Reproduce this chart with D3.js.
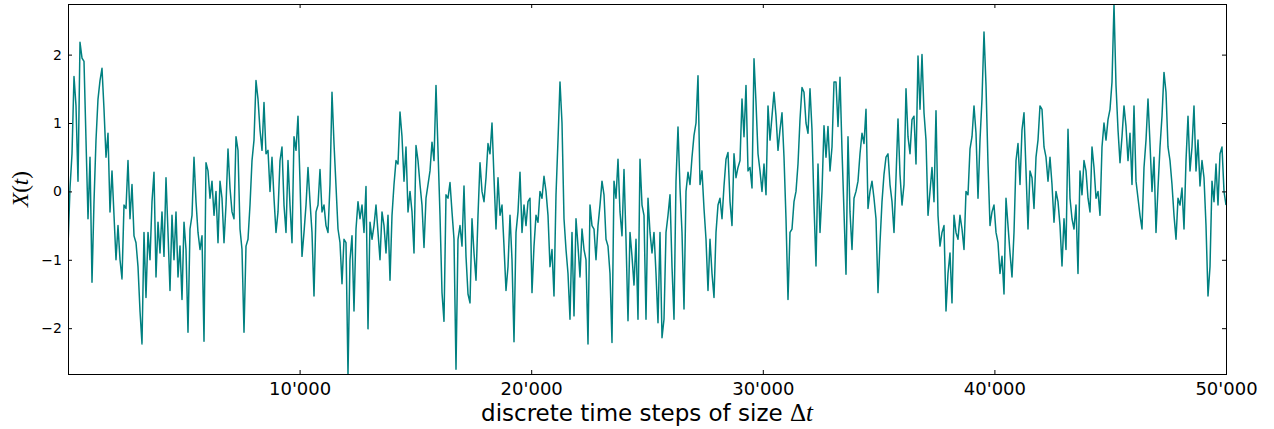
<!DOCTYPE html>
<html>
<head>
<meta charset="utf-8">
<script src="https://cdn.jsdelivr.net/npm/d3@7"></script>
<style>
  body { margin: 0; background: #fff; }
  svg { display: block; }
</style>
</head>
<body>
<div id="plot"></div>
<script>
var width = 1274, height = 429;
// plot frame in pixels ("top" alone would clash with window.top)
var plot_left = 68, plot_right = 1226, plot_top = 4, plot_bottom = 374;

var n_steps = 50000;

// X(t) (one value roughly every 2 px)
var x_values = [
    -0.80, 0.05, 0.55, 1.68, 1.25, 0.15, 2.18, 1.95, 1.9, 0.75,
    -0.4, 0.5, -1.33, -0.15, 0.75, 1.35, 1.62, 1.8, 1.2, 0.5,
    0.85, -0.3, 0.3, -0.35, -1.0, -0.5, -1.0, -1.28, -0.2, -0.25,
    0.45, -0.4, 0.1, -0.65, -0.75, -1.1, -1.75, -2.23, -0.6, -1.55,
    -0.6, -1.0, -0.15, 0.28, -1.25, -0.45, -0.9, -0.3, -0.95, 0.2,
    -0.6, -1.45,
    -0.35, -1.0, -0.3, -1.25, -0.8, -1.58, -0.45, -0.85, -2.06, -0.55,
    -0.35, 0.5, -0.15, -0.6, -0.85, -0.65, -2.19, 0.42, 0.3, -0.1,
    0.15, -0.35, 0.0, -0.75, 0.15, -0.1, -0.75, -0.2, 0.62, 0.05,
    -0.3, -0.4, 0.8, 0.6, -0.55, -0.85, -2.06, -0.8, -0.7, -0.2,
    0.45, 0.75, 1.62, 1.35, 0.9, 0.6, 1.3, 0.55, 0.6, 0.0,
    0.5, -0.1, -0.6,
    -0.3, 0.45, 0.65, -0.2, -0.6, 0.45, -0.2, -0.75, 0.8, 0.6,
    1.1, 0.15, -0.95, -0.6, -0.2, 0.35, -0.15, -0.6, -1.53, -0.3,
    -0.2, 0.32, -0.3, -0.2, -0.5, -0.6, 0.1, 1.45, 0.7, 0.08,
    -0.55, -0.75, -1.35, -0.7, -0.75, -2.67, -1.0, -0.65, -1.75, -0.55,
    -0.15, -0.4, -0.2, -0.6, 0.07, -2.01, -0.45, -0.7, -0.5, -0.2,
    -0.6, -1.0, -0.3,
    -0.5, -0.9, -0.35, -1.3, -0.35, 0.1, 0.45, 0.4, 1.16, 0.8,
    0.15, 0.65, -0.3, 0.0, -0.3, -0.9, 0.67, 0.45, 0.1, -0.2,
    -0.82, -0.1, 0.1, 0.3, 0.72, 0.45, 1.55, 0.6, -0.35, -1.48,
    -1.9, -0.05, -0.1, 0.13, -0.3, -0.7, -2.6, -0.7, -0.5, -0.8,
    0.08, -0.95, -1.5, -1.63, -0.4, -0.9, -1.3, -0.35, 0.42, 0.0,
    -0.15, 0.2, 0.7,
    0.55, 1.0, 0.2, -0.55, 0.2, -0.35, -0.2, -0.8, -1.45, -1.1,
    -0.35, -1.0, -2.2, -0.6, -0.3, 0.28, -0.6, -0.2, -0.5, -0.15,
    -0.1, -1.48, -0.8, -0.35, -0.45, 0.0, -0.1, 0.22, 0.0, -0.35,
    -1.1, -0.85, -1.53, -0.05, 0.75, 1.6, 1.0, -0.4, -0.85, -1.2,
    -1.87, -0.6, -1.82, -0.4, -0.8, -1.25, -0.55, -0.85, -1.0, -2.23,
    -0.2, -0.5, -0.55,
    -1.0, -0.5, -0.2, 0.15, -0.05, -0.7, -0.8, -1.2, -2.21, 0.15,
    -0.1, 0.47, -0.3, -0.65, 0.32, -0.7, -1.89, -0.6, -0.95, -1.37,
    -0.7, -1.87, 0.47, -0.2, -0.35, -1.87, -0.1, -0.6, -0.9, -0.6,
    -1.2, -1.92, -0.6, -2.14, -1.87, -0.6, -0.35, -0.05, -1.1, -1.87,
    0.15, 0.94, 0.05, -0.6, -1.72, 0.0, 0.28, 0.1, 0.5, 0.82,
    1.0, 1.69, 0.1,
    0.3, -0.25, -0.7, -1.45, -0.7, -1.2, -1.55, -0.6, -0.2, -0.1,
    -0.4, 0.08, 0.47, 0.57, -0.15, -0.5, 0.55, 0.2, 0.35, 0.45,
    1.35, 0.8, 1.55, 0.3, 0.35, 0.05, 1.94, 1.3, 0.55, 0.3,
    0.0, 0.4, -0.05, 1.25, 0.75, 1.1, 1.45, 1.1, 0.6, 0.9,
    1.15, 0.5, -0.4, -1.58, -0.6, -0.55, -0.15, 0.0, 0.4, 1.05,
    1.52, 1.45, 1.0,
    0.85, 1.5, 0.9, -0.2, -1.09, 0.4, -0.6, 0.0, 0.96, 0.5,
    0.95, 0.3, 0.65, 1.6, 1.6, 0.95, 1.67, 0.6, -0.3, -1.21,
    0.8, -0.3, -0.85, -0.1, 0.0, 0.15, 0.55, 0.85, 0.7, 1.2,
    -0.25, 0.0, 0.15, -0.1, -0.4, -1.48, -0.75, -0.15, 0.25, 0.5,
    0.55, 0.1, -0.15, -0.6, 0.2, 1.06, 0.25, -0.2, 0.1, 1.5,
    0.8, 0.55, 1.05,
    1.1, 0.4, 1.98, 1.2, 2.0, 1.15, 0.75, -0.35, 0.0, 0.35,
    -0.15, 1.18, -0.35, -0.8, -0.6, -0.5, -1.75, -1.2, -0.9, -1.63,
    -0.35, -0.6, -0.7, -0.35, -0.55, -0.85, 0.0, -0.05, 0.62, 0.8,
    1.25, 0.85, -0.1, 0.75, 1.35, 2.33, 1.55, 0.4, -0.5, -0.3,
    -0.2, -0.6, -0.75, -1.2, -0.95, -1.5, -0.1, -0.5, -0.9, -1.25,
    -0.6, 0.45, 0.7,
    0.1, 0.9, 1.15, 0.3, -0.55, 0.3, 0.2, -0.25, 0.5, 0.75,
    1.25, 1.2, 0.65, 0.5, 0.15, 0.5, 0.1, -0.45, 0.0, -0.15,
    -0.5, -1.09, -0.4, -0.85, 0.91, -0.1, -0.4, -0.55, -0.2, -1.2,
    0.3, -0.05, 0.45, 0.3, -0.1, -0.3, 0.65, 0.35, -0.1, 0.0,
    -0.35, 0.65, 1.0, 0.75, 1.05, 1.2, 1.6, 2.74, 1.55, 0.9,
    0.42, 0.8, 1.25,
    0.95, 0.45, 0.85, 0.1, 1.25, 0.15, -0.1, -0.35, -0.55, 0.35,
    0.75, 1.35, 0.7, 0.0, 0.5, -0.6, 0.05, 0.65, 1.1, 1.74,
    1.45, 0.65, 0.45, 0.1, -0.35, -0.7, -0.1, -0.2, 0.05, -0.55,
    0.45, 1.1, 0.3, 0.65, 1.25, 0.3, 0.75, 0.08, 0.45, 0.2,
    -0.5, -1.53, -1.1, 0.15, -0.15, 0.4, -0.2, 0.55, 0.65, 0.0,
    -0.2
];

var x_ticks = [10000, 20000, 30000, 40000, 50000];
var y_ticks = [-2, -1, 0, 1, 2];

var sample_step = n_steps / (x_values.length - 1);

var svg = d3.select("div#plot")
    .append("svg")
        .attr("width", width)
        .attr("height", height)
        .attr("viewBox", "0 0 " + width + " " + height);

var x_scale = d3.scaleLinear()
    .domain([0, n_steps])
    .range([plot_left, plot_right]);

// matplotlib keeps the limits tight to the data here
var y_scale = d3.scaleLinear()
    .domain(d3.extent(x_values))
    .range([plot_bottom, plot_top]);

svg.append("clipPath")
    .attr("id", "clip")
    .append("rect")
        .attr("x", plot_left)
        .attr("y", plot_top)
        .attr("width", plot_right - plot_left)
        .attr("height", plot_bottom - plot_top);

var line = d3.line()
    .x(function(d, i) { return x_scale(i * sample_step); })
    .y(function(d) { return y_scale(d); });

svg.append("path")
    .datum(x_values)
    .attr("clip-path", "url(#clip)")
    .attr("fill", "none")
    .attr("stroke", "#008080")
    .attr("stroke-width", 1.5)
    .attr("stroke-linejoin", "round")
    .attr("d", line);

// ticks point inward on all four sides
var fmt = d3.format(",");
var g_bottom = svg.append("g")
    .attr("transform", "translate(0," + plot_bottom + ")")
    .call(d3.axisBottom(x_scale)
        .tickValues(x_ticks)
        .tickSize(-4)
        .tickPadding(8)
        .tickFormat(function(d) { return fmt(d).replace(/,/g, "'"); }));

var g_top = svg.append("g")
    .attr("transform", "translate(0," + plot_top + ")")
    .call(d3.axisTop(x_scale).tickValues(x_ticks).tickSize(-4).tickFormat(""));

var g_left = svg.append("g")
    .attr("transform", "translate(" + plot_left + ",0)")
    .call(d3.axisLeft(y_scale)
        .tickValues(y_ticks)
        .tickSize(-4)
        .tickPadding(6)
        .tickFormat(d3.format("d")));

var g_right = svg.append("g")
    .attr("transform", "translate(" + plot_right + ",0)")
    .call(d3.axisRight(y_scale).tickValues(y_ticks).tickSize(-4).tickFormat(""));

[g_bottom, g_top, g_left, g_right].forEach(function(g) {
    g.select(".domain").remove();
    g.selectAll(".tick line").attr("stroke", "#000");
    g.selectAll("text").attr("fill", "#000");
    g.attr("font-family", "'DejaVu Sans', sans-serif");
});
g_bottom.attr("font-size", 18);
g_left.attr("font-size", 14);

svg.append("rect")
    .attr("x", plot_left)
    .attr("y", plot_top)
    .attr("width", plot_right - plot_left)
    .attr("height", plot_bottom - plot_top)
    .attr("fill", "none")
    .attr("stroke", "#000")
    .attr("stroke-width", 1)
    .attr("shape-rendering", "crispEdges");

// axis labels
var y_label = svg.append("text")
    .attr("transform", "translate(28," + ((plot_top + plot_bottom) / 2) + ") rotate(-90)")
    .attr("text-anchor", "middle")
    .attr("font-family", "'Liberation Serif', serif")
    .attr("font-size", 23);
y_label.append("tspan").attr("font-style", "italic").text("X");
y_label.append("tspan").text("(");
y_label.append("tspan").attr("font-style", "italic").text("t");
y_label.append("tspan").text(")");

var x_label = svg.append("text")
    .attr("x", (plot_left + plot_right) / 2)
    .attr("y", 421)
    .attr("text-anchor", "middle")
    .attr("font-family", "'DejaVu Sans', sans-serif")
    .attr("font-size", 23);
x_label.append("tspan").text("discrete time steps of size ");
x_label.append("tspan")
    .attr("font-family", "'Liberation Serif', serif")
    .attr("font-size", 25)
    .text("\u0394");
x_label.append("tspan")
    .attr("font-family", "'Liberation Serif', serif")
    .attr("font-style", "italic")
    .attr("font-size", 25)
    .text("t");
</script>
</body>
</html>
